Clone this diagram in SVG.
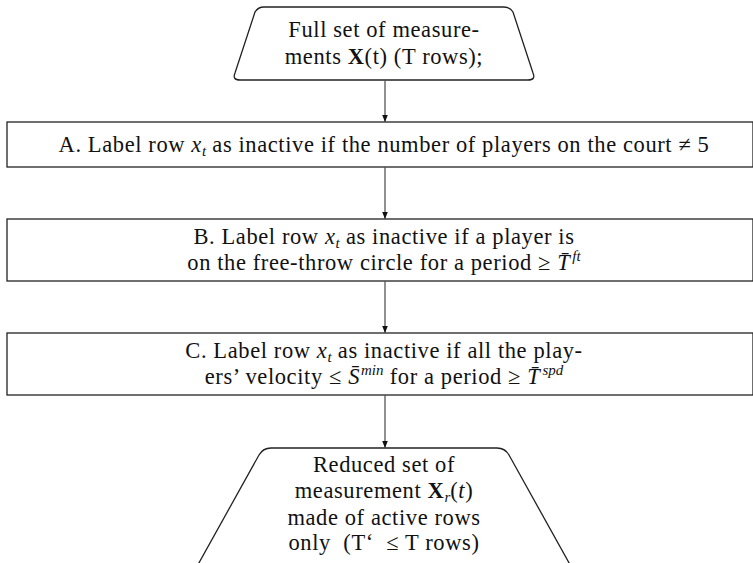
<svg xmlns="http://www.w3.org/2000/svg" width="753" height="563" viewBox="0 0 753 563">
<defs>
<style>
.shape{fill:#fff;stroke:#222;stroke-width:1.3}
.conn{stroke:#555;stroke-width:1.3;fill:none}
text{font-family:"Liberation Serif","DejaVu Serif",serif;font-size:22.5px;letter-spacing:0.6px;fill:#111;text-anchor:middle}
.it{font-style:italic}
.bf{font-weight:bold}
.sub{font-size:15px;font-style:italic;letter-spacing:0}
</style>
<marker id="ah" viewBox="0 0 10 10" refX="10" refY="5" markerWidth="7" markerHeight="7" orient="auto" markerUnits="userSpaceOnUse">
<path d="M0,1 L10,5 L0,9 z" fill="#111"/>
</marker>
</defs>
<rect width="753" height="563" fill="#fff"/>
<g id="start">
<path class="shape" d="M264,7 L504,7 Q510,7 513,12 L533,73 Q536,80 528,80 L240,80 Q232,80 235,73 L255,12 Q258,7 264,7 Z"/>
<text x="384" y="37">Full set of measure-</text>
<text x="384" y="64">ments <tspan class="bf">X</tspan>(t) (T rows);</text>
</g>
<g id="stepA">
<rect class="shape" x="7" y="122" width="746" height="45"/>
<text x="384" y="152">A. Label row <tspan class="it">x</tspan><tspan class="sub" dy="4">t</tspan><tspan dy="-4"> as inactive if the number of players on the court ≠ 5</tspan></text>
</g>
<g id="stepB">
<rect class="shape" x="7" y="219" width="746" height="62"/>
<text x="384" y="244">B. Label row <tspan class="it">x</tspan><tspan class="sub" dy="4">t</tspan><tspan dy="-4"> as inactive if a player is</tspan></text>
<text x="384" y="270">on the free-throw circle for a period ≥ <tspan class="it">T̄</tspan><tspan class="sub" dx="2" dy="-9">ft</tspan></text>
</g>
<g id="stepC">
<rect class="shape" x="7" y="333" width="746" height="62"/>
<text x="384" y="358">C. Label row <tspan class="it">x</tspan><tspan class="sub" dy="4">t</tspan><tspan dy="-4"> as inactive if all the play-</tspan></text>
<text x="384" y="384">ers’ velocity ≤ <tspan class="it">S̄</tspan><tspan class="sub" dx="1" dy="-9">min</tspan><tspan dy="9"> for a period ≥ </tspan><tspan class="it">T̄</tspan><tspan class="sub" dx="2" dy="-9">spd</tspan></text>
</g>
<g id="end">
<path class="shape" d="M271,448 L497,448 Q505,448 509,455 L573,570 L195,570 L259,455 Q263,448 271,448 Z"/>
<text x="384" y="472">Reduced set of</text>
<text x="384" y="498">measurement <tspan class="bf">X</tspan><tspan class="sub" dy="4">r</tspan><tspan dy="-4">(</tspan><tspan class="it">t</tspan>)</text>
<text x="384" y="525">made of active rows</text>
<text x="384" y="550">only&#160; (T‘&#160; ≤ T rows)</text>
</g>
<g id="connectors">
<line class="conn" x1="385" y1="80" x2="385" y2="122" marker-end="url(#ah)"/>
<line class="conn" x1="385" y1="167" x2="385" y2="219" marker-end="url(#ah)"/>
<line class="conn" x1="385" y1="281" x2="385" y2="333" marker-end="url(#ah)"/>
<line class="conn" x1="385" y1="395" x2="385" y2="448" marker-end="url(#ah)"/>
</g>
</svg>
